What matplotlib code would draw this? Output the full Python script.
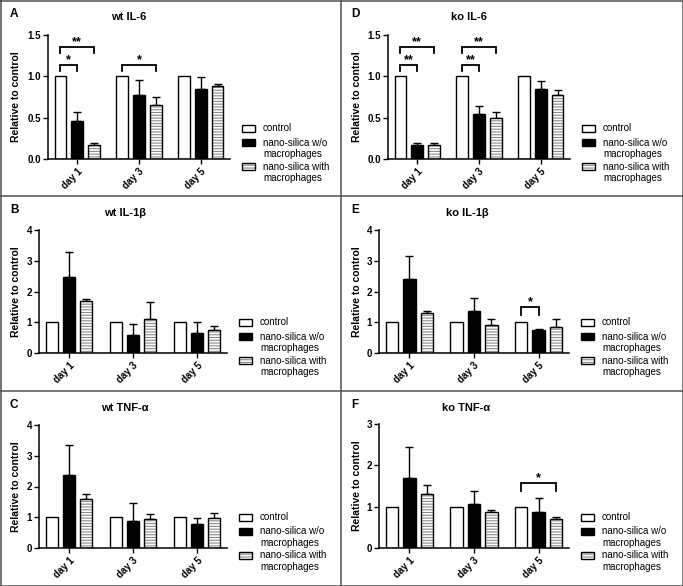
import matplotlib
matplotlib.use('Agg')
import matplotlib.pyplot as plt
import numpy as np
from matplotlib.patches import Rectangle
from matplotlib.lines import Line2D

W, H = 683, 586
plt.rcParams['font.family'] = ['Liberation Sans', 'DejaVu Sans']
plt.rcParams['hatch.linewidth'] = 0.8

days = ['day 1', 'day 3', 'day 5']
series_labels = ['control', 'nano-silica w/o\nmacrophages', 'nano-silica with\nmacrophages']

# ---- data (relative to control) ----
wt_il6_ctrl = [1.0, 1.0, 1.0]
wt_il6_wo = [0.46, 0.77, 0.85]
wt_il6_wo_err = [0.11, 0.19, 0.14]
wt_il6_with = [0.17, 0.655, 0.88]
wt_il6_with_err = [0.02, 0.10, 0.03]

ko_il6_ctrl = [1.0, 1.0, 1.0]
ko_il6_wo = [0.165, 0.54, 0.85]
ko_il6_wo_err = [0.025, 0.10, 0.09]
ko_il6_with = [0.17, 0.49, 0.77]
ko_il6_with_err = [0.02, 0.08, 0.07]

wt_il1b_ctrl = [1.0, 1.0, 1.0]
wt_il1b_wo = [2.48, 0.58, 0.66]
wt_il1b_wo_err = [0.79, 0.37, 0.34]
wt_il1b_with = [1.70, 1.10, 0.76]
wt_il1b_with_err = [0.04, 0.56, 0.12]

ko_il1b_ctrl = [1.0, 1.0, 1.0]
ko_il1b_wo = [2.41, 1.35, 0.76]
ko_il1b_wo_err = [0.75, 0.44, 0.01]
ko_il1b_with = [1.29, 0.91, 0.85]
ko_il1b_with_err = [0.06, 0.21, 0.24]

wt_tnf_ctrl = [1.0, 1.0, 1.0]
wt_tnf_wo = [2.36, 0.88, 0.77]
wt_tnf_wo_err = [0.99, 0.57, 0.22]
wt_tnf_with = [1.58, 0.93, 0.96]
wt_tnf_with_err = [0.18, 0.16, 0.19]

ko_tnf_ctrl = [1.0, 1.0, 1.0]
ko_tnf_wo = [1.70, 1.07, 0.86]
ko_tnf_wo_err = [0.75, 0.31, 0.36]
ko_tnf_with = [1.31, 0.86, 0.71]
ko_tnf_with_err = [0.22, 0.07, 0.04]

# significance brackets: (day index, series a, series b, y, y of leg ends, label)
wt_il6_sig = [(0, 0, 1, 1.14, 1.06, '*'), (0, 0, 2, 1.36, 1.28, '**'),
              (1, 0, 2, 1.14, 1.06, '*')]
ko_il6_sig = [(0, 0, 1, 1.14, 1.06, '**'), (0, 0, 2, 1.36, 1.28, '**'),
              (1, 0, 1, 1.14, 1.06, '**'), (1, 0, 2, 1.36, 1.28, '**')]
ko_il1b_sig = [(2, 0, 1, 1.50, 1.24, '*')]
ko_tnf_sig = [(2, 0, 2, 1.58, 1.38, '*')]

panels = [
    dict(letter='A', title='wt IL-6', rect=(48, 230, 35, 159), ylim=1.5,
         yticks=[0, 0.5, 1.0, 1.5], ytl=['0.0', '0.5', '1.0', '1.5'],
         data=[(wt_il6_ctrl, None), (wt_il6_wo, wt_il6_wo_err), (wt_il6_with, wt_il6_with_err)],
         sig=wt_il6_sig, tx=129, box=(0, 0)),
    dict(letter='D', title='ko IL-6', rect=(388, 570, 35, 159), ylim=1.5,
         yticks=[0, 0.5, 1.0, 1.5], ytl=['0.0', '0.5', '1.0', '1.5'],
         data=[(ko_il6_ctrl, None), (ko_il6_wo, ko_il6_wo_err), (ko_il6_with, ko_il6_with_err)],
         sig=ko_il6_sig, tx=469, box=(341, 0)),
    dict(letter='B', title='wt IL-1\u03b2', rect=(39, 227, 230, 353), ylim=4,
         yticks=[0, 1, 2, 3, 4], ytl=['0', '1', '2', '3', '4'],
         data=[(wt_il1b_ctrl, None), (wt_il1b_wo, wt_il1b_wo_err), (wt_il1b_with, wt_il1b_with_err)],
         sig=[], tx=125, box=(0, 196)),
    dict(letter='E', title='ko IL-1\u03b2', rect=(379, 569, 230, 353), ylim=4,
         yticks=[0, 1, 2, 3, 4], ytl=['0', '1', '2', '3', '4'],
         data=[(ko_il1b_ctrl, None), (ko_il1b_wo, ko_il1b_wo_err), (ko_il1b_with, ko_il1b_with_err)],
         sig=ko_il1b_sig, tx=467, box=(341, 196)),
    dict(letter='C', title='wt TNF-\u03b1', rect=(39, 227, 425, 548), ylim=4,
         yticks=[0, 1, 2, 3, 4], ytl=['0', '1', '2', '3', '4'],
         data=[(wt_tnf_ctrl, None), (wt_tnf_wo, wt_tnf_wo_err), (wt_tnf_with, wt_tnf_with_err)],
         sig=[], tx=125, box=(0, 391)),
    dict(letter='F', title='ko TNF-\u03b1', rect=(379, 569, 424, 548), ylim=3,
         yticks=[0, 1, 2, 3], ytl=['0', '1', '2', '3'],
         data=[(ko_tnf_ctrl, None), (ko_tnf_wo, ko_tnf_wo_err), (ko_tnf_with, ko_tnf_with_err)],
         sig=ko_tnf_sig, tx=466, box=(341, 391)),
]

fig = plt.figure(figsize=(W / 100, H / 100), dpi=100)
fig.patch.set_facecolor('white')

def fx(x):
    return x / W

def fy(y):
    return 1 - y / H

width = 0.19
offsets = [-0.27, 0.0, 0.27]
hatch_gray = '#8a8a8a'

for p in panels:
    l, r, t, b = p['rect']
    ax = fig.add_axes([fx(l), fy(b), (r - l) / W, (b - t) / H])
    x0 = np.arange(len(days))
    for i, (vals, errs) in enumerate(p['data']):
        xs = x0 + offsets[i]
        if i == 0:
            ax.bar(xs, vals, width, facecolor='white', edgecolor='black', lw=1.0, zorder=2)
        elif i == 1:
            ax.bar(xs, vals, width, facecolor='black', edgecolor='black', lw=1.0, zorder=2)
        else:
            ax.bar(xs, vals, width, facecolor='white', edgecolor=hatch_gray, hatch='------',
                   lw=0, zorder=2)
            ax.bar(xs, vals, width, fill=False, edgecolor='black', lw=1.0, zorder=3)
        if errs is not None:
            ax.errorbar(xs, vals, yerr=[np.zeros(len(vals)), errs], fmt='none',
                        ecolor='black', elinewidth=1.0, capsize=2.6, capthick=1.0, zorder=1)
    ax.set_xlim(-0.47, 2.47)
    ax.set_ylim(0, p['ylim'])
    ax.set_yticks(p['yticks'])
    ax.set_yticklabels(p['ytl'], fontsize=7, fontweight='bold')
    ax.set_xticks(x0)
    ax.set_xticklabels(days, fontsize=7, fontweight='bold', rotation=45,
                       ha='right', va='top', rotation_mode='anchor')
    for s in ['top', 'right']:
        ax.spines[s].set_visible(False)
    for s in ['left', 'bottom']:
        ax.spines[s].set_linewidth(1.1)
    ax.tick_params(direction='out', length=3.5, width=1.0, pad=1.5)
    ax.set_facecolor('none')
    # significance brackets
    for (d, a, bb, y, y_end, lab) in p['sig']:
        xa = d + offsets[a]
        xb = d + offsets[bb]
        ax.plot([xa, xa, xb, xb], [y_end, y, y, y_end], color='black',
                lw=1.3, solid_joinstyle='miter', clip_on=False, zorder=4)
        ax.annotate(lab, xy=((xa + xb) / 2, y), xytext=(0, -1.0), textcoords='offset points',
                    ha='center', va='bottom', fontsize=9, fontweight='bold', annotation_clip=False)
    # title, letter, ylabel
    bx, by = p['box']
    fig.text(fx(p['tx']), fy(by + 17), p['title'], ha='center', va='center',
             fontsize=8, fontweight='bold')
    fig.text(fx(bx + 10), fy(by + 14), p['letter'], ha='left', va='center',
             fontsize=8.5, fontweight='bold')
    fig.text(fx(bx + 16), fy((t + b) / 2), 'Relative to control', rotation=90,
             ha='center', va='center', fontsize=7.5, fontweight='bold')
    # legend (drawn manually so the swatch sits on the first text line)
    rows = [(b - 31, [b - 31]), (b - 16.5, [b - 16.5, b - 5]), (b + 7.5, [b + 7.5, b + 19])]
    px0 = r + 12
    for i, (ry, lines) in enumerate(rows):
        rect_args = dict(xy=(fx(px0), fy(ry + 3.5)), width=13 / W, height=7 / H,
                         transform=fig.transFigure)
        if i == 0:
            fig.add_artist(Rectangle(facecolor='white', edgecolor='black', lw=1.0, **rect_args))
        elif i == 1:
            fig.add_artist(Rectangle(facecolor='black', edgecolor='black', lw=1.0, **rect_args))
        else:
            fig.add_artist(Rectangle(facecolor='white', edgecolor=hatch_gray, hatch='------',
                                     lw=0, **rect_args))
            fig.add_artist(Rectangle(fill=False, edgecolor='black', lw=1.0, **rect_args))
        for txt, ly in zip(series_labels[i].split('\n'), lines):
            fig.text(fx(r + 33), fy(ly), txt, ha='left', va='center', fontsize=7)

# panel frame lines
border = '#505050'
for (xs, ys) in [([0.5, 682.5, 682.5, 0.5, 0.5], [0.5, 0.5, 585.5, 585.5, 0.5]),
                 ([341, 341], [0, 586]), ([0, 683], [196, 196]), ([0, 683], [391, 391])]:
    fig.add_artist(Line2D([fx(v) for v in xs], [fy(v) for v in ys], color=border, lw=1.1,
                          transform=fig.transFigure))

fig.savefig('out.png', dpi=100)
